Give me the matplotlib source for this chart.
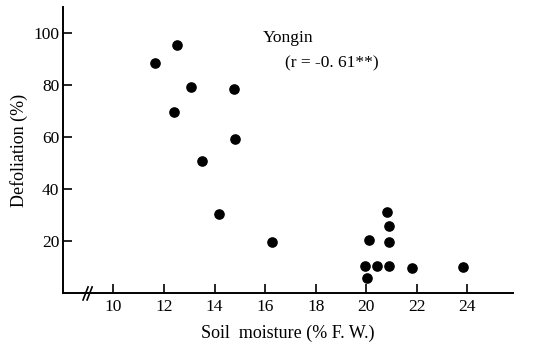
import matplotlib
matplotlib.use("Agg")
import matplotlib.pyplot as plt

# Data
soil_moisture = [11.65, 12.53, 13.08, 12.40, 14.77, 14.81, 13.52, 14.18, 16.28,
                 20.11, 19.95, 20.01, 20.41, 20.83, 20.91, 20.88, 20.91, 21.80, 23.83]
defoliation = [88.6, 95.2, 79.2, 69.5, 78.6, 59.3, 50.9, 30.5, 19.8,
               20.7, 10.6, 5.9, 10.6, 31.2, 25.9, 19.7, 10.6, 9.8, 10.1]
x_ticks = [10, 12, 14, 16, 18, 20, 22, 24]
y_ticks = [20, 40, 60, 80, 100]

plt.rcParams['font.family'] = ['Liberation Serif', 'DejaVu Serif']

fig = plt.figure(figsize=(5.43, 3.44), dpi=100)
ax = fig.add_axes([0.1166, 0.147, 0.828, 0.833])

ax.scatter(soil_moisture, defoliation, s=44, color='black', zorder=3, clip_on=False)

ax.set_xlim(8.02, 25.8)
ax.set_ylim(0, 110)
ax.set_xticks(x_ticks)
ax.set_yticks(y_ticks)
ax.tick_params(direction='in', length=6.5, width=1.2, labelsize=12.5, colors='black')
ax.tick_params(axis='x', pad=4)
ax.tick_params(axis='y', pad=3)

for s in ['top', 'right']:
    ax.spines[s].set_visible(False)
for s in ['left', 'bottom']:
    ax.spines[s].set_linewidth(1.4)

# axis break marks
for dx in (-0.1, 0.06):
    ax.plot([9.0 + dx - 0.1, 9.0 + dx + 0.1], [-2.5, 2.5], color='black', lw=1.2, clip_on=False)

fig.text(0.484, 0.878, 'Yongin', fontsize=12.5)
fig.text(0.524, 0.803, '(r = -0. 61**)', fontsize=12.5)

ax.set_xlabel('Soil  moisture (% F. W.)', fontsize=13, labelpad=7)
ax.set_ylabel('Defoliation (%)', fontsize=13, labelpad=4)

fig.savefig('out.png', dpi=100)
